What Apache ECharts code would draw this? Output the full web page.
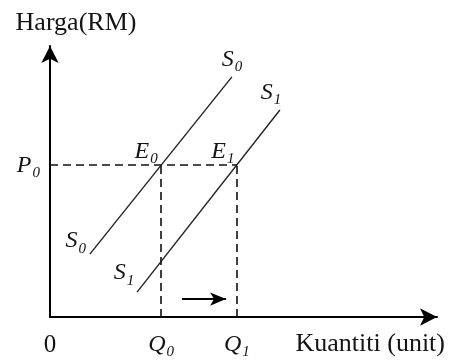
<!DOCTYPE html>
<html><head><meta charset="utf-8">
<script src="https://cdn.jsdelivr.net/npm/echarts@6/dist/echarts.min.js"></script>
<style>html,body{margin:0;padding:0;background:#fff}#c{width:449px;height:360px}</style>
</head><body><div id="c"></div>
<script>
// ---- data ----
const xTicks = [0, 28.7, 48.3];
const xTickLabels = ['0', 'Q0', 'Q1'];
const yTicks = [56];
const yTickLabels = ['P0'];
const supplyNames = ['S0', 'S1'];
const s0Points = [[10.3, 23.2], [47.0, 88.6]];
const s1Points = [[22.5, 9.2], [59.4, 76.4]];
const equilibria = [[28.7, 56], [48.3, 56]];
const equilibriumLabels = ['E0', 'E1'];
const shiftArrow = [[34.1, 6.6], [45.5, 6.6]];
const xName = 'Kuantiti (unit)';
const yName = 'Harga(RM)';

// ---- style ----
const FONT = 'Liberation Serif';
const INK = '#141414';
const rich = {
  n: { fontFamily: FONT, fontSize: 25, color: INK },
  m: { fontFamily: FONT, fontSize: 24, fontStyle: 'italic', color: INK },
  s: { fontFamily: FONT, fontSize: 15, fontStyle: 'italic', color: INK, verticalAlign: 'bottom', padding: [0, 0, -3, 1] }
};
function fmt(label) {
  const main = label[0], sub = label.slice(1);
  if (!sub) return '{n|' + main + '}';
  return '{m|' + main + '}{s|' + sub + '}';
}
function labelFor(v, ticks, labels) {
  let best = 0;
  ticks.forEach((t, i) => { if (Math.abs(t - v) < Math.abs(ticks[best] - v)) best = i; });
  return fmt(labels[best]);
}

const labelItems = [
  { value: s0Points[1], name: supplyNames[0], off: [0, -17] },
  { value: s0Points[0], name: supplyNames[0], off: [-14, -13] },
  { value: s1Points[1], name: supplyNames[1], off: [-9, -17] },
  { value: s1Points[0], name: supplyNames[1], off: [-13, -19] },
  { value: equilibria[0], name: equilibriumLabels[0], off: [-15, -14] },
  { value: equilibria[1], name: equilibriumLabels[1], off: [-14, -14] }
].map(d => ({
  value: d.value, name: d.name,
  label: {
    show: true, position: 'inside', offset: d.off, formatter: fmt(d.name), rich,
    color: INK, opacity: 1, textBorderWidth: 0, textBorderColor: 'transparent'
  }
}));

const dashed = { color: '#111', width: 1.6, type: [8, 5] };

const chart = echarts.init(document.getElementById('c'), null, { renderer: 'canvas' });
chart.setOption({
  animation: false,
  backgroundColor: '#fff',
  grid: { left: 50, right: 12, top: 46, bottom: 43 },
  xAxis: {
    type: 'value', min: 0, max: 100,
    name: xName, nameLocation: 'end', nameGap: 8,
    nameTextStyle: { fontFamily: FONT, fontSize: 26, color: INK, align: 'right', verticalAlign: 'top', padding: [14, 0, 0, 0] },
    axisLine: { show: true, onZero: false, symbol: ['none', 'arrow'], symbolSize: [13, 17], lineStyle: { color: '#000', width: 2 } },
    axisTick: { show: false },
    splitLine: { show: false },
    axisLabel: {
      show: true, customValues: xTicks, margin: 16,
      formatter: v => labelFor(v, xTicks, xTickLabels), rich
    }
  },
  yAxis: {
    type: 'value', min: 0, max: 100,
    name: yName, nameLocation: 'end', nameGap: 10,
    nameTextStyle: { fontFamily: FONT, fontSize: 26, color: INK, align: 'center', padding: [0, 0, 0, 52] },
    axisLine: { show: true, onZero: false, symbol: ['none', 'arrow'], symbolSize: [13, 17], lineStyle: { color: '#000', width: 2 } },
    axisTick: { show: false },
    splitLine: { show: false },
    axisLabel: {
      show: true, customValues: yTicks, margin: 10,
      formatter: v => labelFor(v, yTicks, yTickLabels), rich
    }
  },
  series: [
    {
      name: supplyNames[0], type: 'line', data: s0Points, symbol: 'none',
      lineStyle: { color: '#222', width: 1.4 }, silent: true,
      markLine: {
        silent: true, symbol: 'none', label: { show: false }, lineStyle: dashed,
        data: [
          [{ coord: [0, equilibria[0][1]] }, { coord: equilibria[1] }],
          [{ coord: [equilibria[0][0], 0] }, { coord: equilibria[0] }],
          [{ coord: [equilibria[1][0], 0] }, { coord: equilibria[1] }]
        ]
      }
    },
    {
      name: supplyNames[1], type: 'line', data: s1Points, symbol: 'none',
      lineStyle: { color: '#222', width: 1.4 }, silent: true,
      markLine: {
        silent: true, symbol: ['none', 'arrow'], symbolSize: [10, 16], label: { show: false },
        lineStyle: { color: '#000', width: 2, type: 'solid' },
        data: [[{ coord: shiftArrow[0] }, { coord: shiftArrow[1] }]]
      }
    },
    {
      name: 'labels', type: 'scatter', data: labelItems, symbolSize: 1,
      itemStyle: { color: 'rgba(0,0,0,0)' }, silent: true
    }
  ]
});
</script></body></html>
